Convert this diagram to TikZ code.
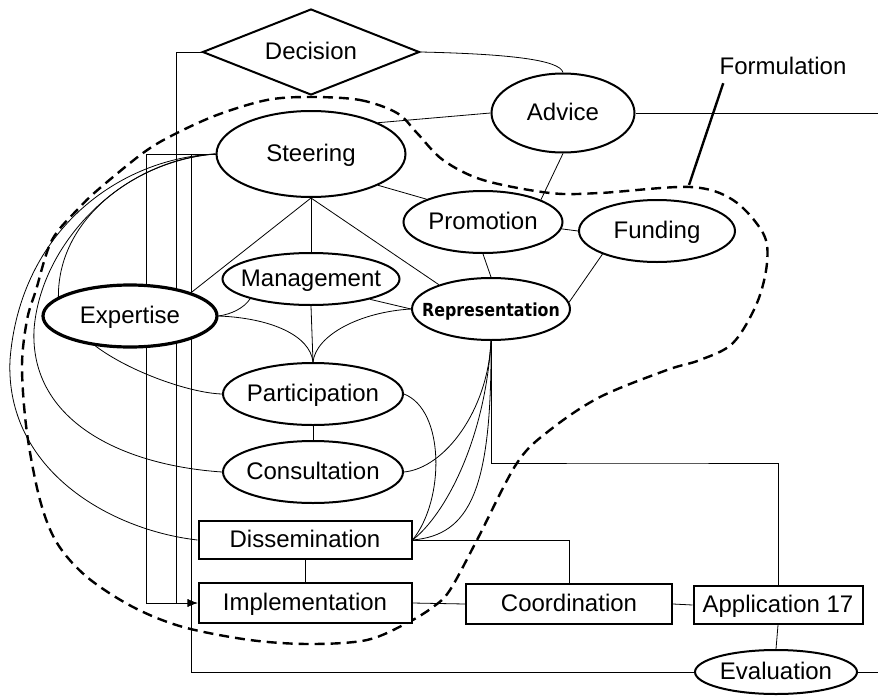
\documentclass[tikz,border=0pt]{standalone}
\usepackage{fontspec}
\setmainfont{Liberation Sans}
\newfontfamily\repfont[FakeStretch=0.88]{DejaVu Sans Bold}
\usetikzlibrary{shapes.geometric,arrows.meta,backgrounds}
\newcommand{\nw}[1]{\makebox[0pt]{#1}}
\tikzset{
    base/.style={draw, line width=1pt, fill=white, inner sep=0pt,
        text height=9pt, text depth=2pt, font=\fontsize{12}{14}\selectfont},
    oval/.style={base, ellipse},
    box/.style={base, rectangle},
    decide/.style={base, diamond},
    link/.style={line width=0.5pt},
    formline/.style={line width=1.2pt, dash pattern=on 5pt off 3pt},
}

\begin{document}
\begin{tikzpicture}[x=0.5pt, y=-0.5pt]
    \useasboundingbox (0,0) rectangle (878,696);
    \node[decide, minimum width=108.5pt, minimum height=43pt] (dec) at (311,52) {\nw{Decision}};
    \node[oval, minimum width=71.5pt, minimum height=39.5pt] (adv) at (563,113) {\nw{Advice}};
    \node[oval, minimum width=94.5pt, minimum height=43pt] (steer) at (311,154) {\nw{Steering}};
    \node[oval, minimum width=79.5pt, minimum height=31pt] (prom) at (483,222) {\nw{Promotion}};
    \node[oval, minimum width=78pt, minimum height=31pt] (fund) at (657,231) {\nw{Funding}};
    \node[oval, minimum width=88.5pt, minimum height=26pt] (mgmt) at (311,279) {\nw{Management}};
    \node[oval, line width=1.6pt, minimum width=87pt, minimum height=31pt] (expert) at (130,316) {\nw{Expertise}};
    \node[oval, minimum width=79pt, minimum height=31pt, font={\repfont\fontsize{9}{11}\selectfont}] (rep) at (491,309) {\nw{Representation}};
    \node[oval, minimum width=90pt, minimum height=31pt] (part) at (313,394) {\nw{Participation}};
    \node[oval, minimum width=90pt, minimum height=31pt] (cons) at (313,472) {\nw{Consultation}};
    \node[box, minimum width=106.5pt, minimum height=19pt] (diss) at (305,540) {Dissemination};
    \node[box, minimum width=106.5pt, minimum height=20pt] (impl) at (305,603) {Implementation};
    \node[box, minimum width=103pt, minimum height=20pt] (coord) at (569,604) {Coordination};
    \node[box, minimum width=84.5pt, minimum height=19pt] (app) at (778,605) {Application 17};
    \node[oval, minimum width=81pt, minimum height=22pt] (eval) at (776,672) {\nw{Evaluation}};
    \node[inner sep=0pt, font=\fontsize{12}{14}\selectfont] (form) at (783,66) {Formulation};

    \coordinate (advout) at (878,113);
    \coordinate (evalout) at (878,672);
    \coordinate (stdown) at (146,154);
    \coordinate (decdown) at (176,52);
    \coordinate (evalup) at (191,154);
    \coordinate (appturn) at (640,463);
    \coordinate (formpt) at (689,185);

    \begin{scope}[on background layer, link]
        \draw[formline] plot[smooth cycle, tension=0.55] coordinates {
            (310,97) (360,100) (397,113) (417,133) (443,160) (483,180) (550,193)
            (600,193) (690,187) (733,200) (763,233) (767,263) (757,303) (733,343)
            (700,360) (667,370) (600,397) (550,430) (517,463) (477,540) (450,590)
            (433,607) (407,623) (367,640) (310,644) (250,640) (183,627) (133,607)
            (87,577) (57,543) (40,500) (27,433) (22,367) (27,320) (36,290)
            (52,240) (80,207) (100,188) (143,153) (173,135) (217,115) (267,100)};
        \draw (dec.east) .. controls (510,54) and (560,60) .. (adv.north);
        \draw (steer.25) -- (adv.west);
        \draw (adv.east) -- (advout);
        \draw (adv.south) -- (prom.21);
        \draw (steer.-25) -- (prom.158);
        \draw (prom.-5) -- (fund.west);
        \draw (prom.south) -- (rep.north);
        \draw (fund.203) -- (rep.5);
        \draw (steer.south) -- (expert.21);
        \draw (steer.south) -- (mgmt.north);
        \draw (steer.south) -- (rep.155);
        \draw (expert.east) .. controls (232,314) and (244,308) .. (mgmt.198);
        \draw (expert.east) .. controls (270,318) and (310,335) .. (part.north);
        \draw (rep.west) .. controls (360,312) and (316,335) .. (part.north);
        \draw (mgmt.south) -- (part.north);
        \draw (mgmt.-19) -- (rep.west);
        \draw (expert.221) .. controls (130,372) and (190,393) .. (part.west);
        \draw (part.south) -- (cons.north);
        \draw (part.east) .. controls (445,410) and (445,500) .. (diss.east);
        \draw (cons.east) .. controls (445,468) and (488,410) .. (rep.south);
        \draw (rep.south) .. controls (492,490) and (470,535) .. (diss.east);
        \draw (rep.south) .. controls (485,440) and (445,515) .. (diss.east);
        \draw (rep.south) |- (appturn) -| (app.north);
        \draw (diss.east) -| (coord.north);
        \draw (diss.south) -- (impl.north);
        \draw (impl.east) -- (coord.west);
        \draw (coord.east) -- (app.west);
        \draw (app.south) -- (eval.north);
        \draw (eval.east) -- (evalout);
        \draw (steer.west) .. controls (140,160) and (58,215) .. (expert.165);
        \draw (steer.west) .. controls (120,160) and (40,245) .. (34,330)
            .. controls (30,420) and (120,465) .. (cons.west);
        \draw (steer.west) .. controls (120,158) and (20,230) .. (10,360)
            .. controls (5,470) and (110,530) .. (diss.west);
        \draw[-{Latex[length=5pt,width=4pt]}] (steer.west) -- (stdown) |- (impl.west);
        \draw[-{Latex[length=5pt,width=4pt]}] (dec.west) -- (decdown) |- (impl.west);
        \draw (eval.west) -| (evalup);
        \draw[line width=1.2pt] ([xshift=2pt,yshift=-4pt]form.south west) -- (formpt);
    \end{scope}
\end{tikzpicture}
\end{document}
